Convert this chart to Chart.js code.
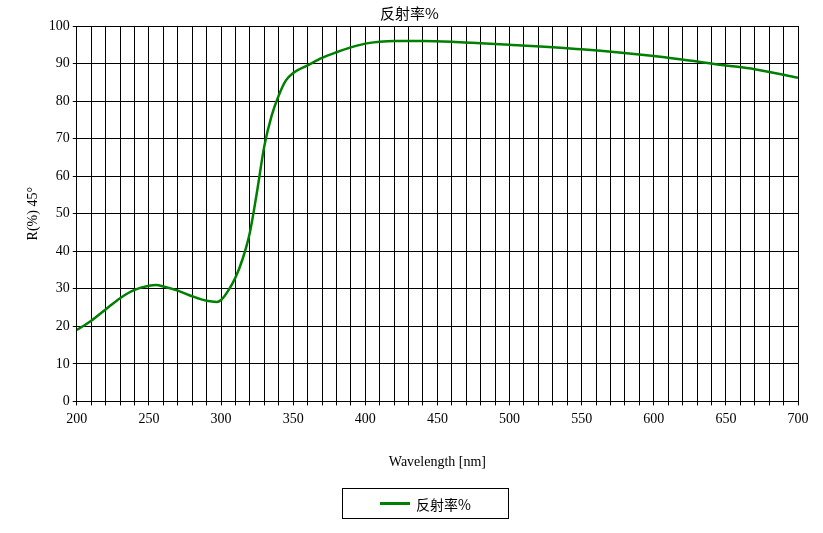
<!DOCTYPE html>
<html><head><meta charset="utf-8">
<script src="https://cdn.jsdelivr.net/npm/chart.js@4"></script>
<style>
body{margin:0;background:#fff;}
#w{position:relative;width:823px;height:533px;}
#lg{position:absolute;left:342px;top:488px;width:167px;height:31px;border:1px solid #000;box-sizing:border-box;font:14px "Noto Sans CJK SC","Liberation Serif";display:flex;align-items:center;justify-content:center;}
#lg span.l{display:inline-block;width:30px;height:3px;background:#008000;margin-right:6px;}
</style></head><body>
<div id="w"><canvas id="c" width="823" height="533"></canvas>
<div id="lg"><span class="l"></span>反射率%</div></div>
<script>
const wavelengths=[200,210,220,230,240,250,255,260,270,280,290,297,300,305,310,315,320,325,330,335,340,345,350,360,370,380,390,400,410,420,440,460,480,500,550,600,650,670,700];
const reflectance=[19,21.5,24.5,27.5,29.7,30.8,31,30.6,29.5,28,26.8,26.5,27,29.5,33,38,45,56,68,76,81.5,85.5,87.5,89.5,91.5,93,94.3,95.3,95.8,96,96,95.8,95.4,95,93.8,92,89.5,88.5,86.2];
const seriesName='反射率%';
const titleText='反射率%';
const xTitle='Wavelength [nm]';
const yTitle='R(%) 45°';
Chart.defaults.font.family='"Liberation Serif","Noto Sans CJK SC"';
Chart.defaults.color='#000';
new Chart(document.getElementById('c'),{type:'line',
data:{datasets:[{label:seriesName,data:wavelengths.map((x,i)=>({x,y:reflectance[i]})),borderColor:'#008000',borderWidth:2.5,pointRadius:0,tension:0.4,cubicInterpolationMode:'monotone'}]},
options:{responsive:false,animation:false,
layout:{padding:{left:21,right:25,top:2,bottom:58}},
plugins:{legend:{display:false},title:{display:true,text:titleText,font:{size:15,family:'"Noto Sans CJK SC"',weight:'normal'},padding:{top:2,bottom:4}}},
scales:{
x:{type:'linear',min:200,max:700,ticks:{stepSize:10,autoSkip:false,maxRotation:0,padding:6,font:{size:14},callback:v=>v%50===0?v:''},grid:{color:'#000',tickLength:4},border:{color:'#000'},title:{display:true,text:xTitle,font:{size:14},padding:{top:20}}},
y:{min:0,max:100,ticks:{stepSize:10,font:{size:14}},grid:{color:'#000',tickLength:4},border:{color:'#000'},title:{display:true,text:yTitle,font:{size:14}}}
}}});
</script></body></html>
